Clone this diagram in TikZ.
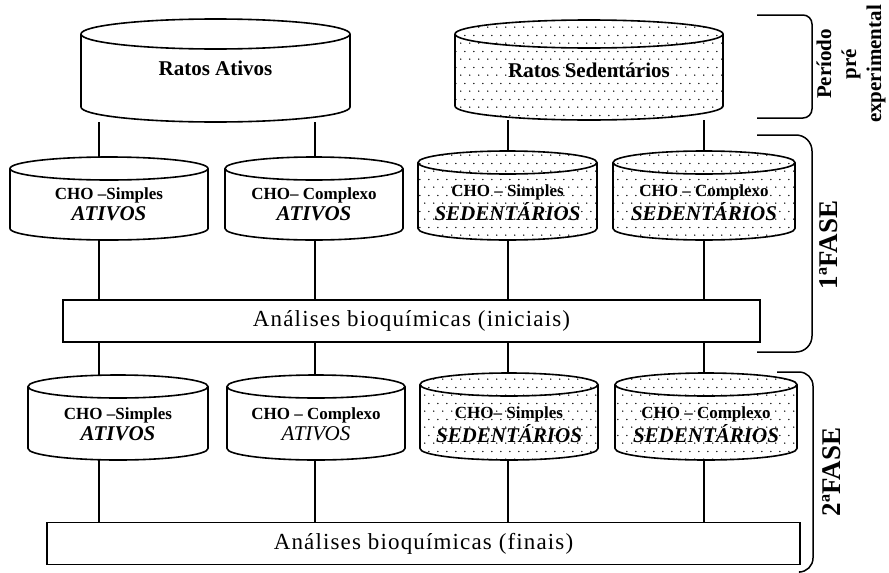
\documentclass[tikz,border=0pt]{standalone}
\usepackage{fontspec}
\setmainfont{Liberation Serif}
\usetikzlibrary{patterns}

% staggered sparse dots for the sedentary groups
\pgfdeclarepatternformonly{sparsedots}{\pgfqpoint{0pt}{0pt}}{\pgfqpoint{9pt}{16pt}}{\pgfqpoint{9pt}{16pt}}{%
  \pgfpathcircle{\pgfqpoint{2pt}{2pt}}{0.8pt}%
  \pgfpathcircle{\pgfqpoint{6.5pt}{10pt}}{0.8pt}%
  \pgfusepath{fill}}

% two-line label of a diet group
\newcommand{\grp}[2]{\textbf{#1}\\[1pt]{\fontsize{21}{23}\selectfont\bfseries\itshape #2}}

% can: style, name, cx, cy, width, height, ry, text drop, text
\newcommand{\can}[9]{%
  \pgfmathsetmacro{\canl}{#3-#5/2}%
  \pgfmathsetmacro{\canr}{#3+#5/2}%
  \pgfmathsetmacro{\cant}{#4-#6/2+#7}%
  \pgfmathsetmacro{\canb}{#4+#6/2-#7}%
  \pgfmathsetmacro{\canrx}{#5/2}%
  \draw[canline, #1] (\canl,\cant) -- (\canl,\canb)
    arc[start angle=180, end angle=360, x radius=\canrx pt, y radius=#7pt]
    -- (\canr,\cant)
    arc[start angle=0, end angle=180, x radius=\canrx pt, y radius=#7pt] -- cycle;
  \draw[canline] (\canl,\cant)
    arc[start angle=180, end angle=360, x radius=\canrx pt, y radius=#7pt];
  \node[inner sep=0pt, minimum width=#5pt, minimum height=#6pt] (#2) at (#3,#4) {};
  \node[align=center, inner sep=0pt] (#2txt) at (#3,#4+#8) {#9};
}

\begin{document}
\begin{tikzpicture}[x=1pt, y=-1pt,
  canline/.style={line width=1.6pt, line join=round},
  sed/.style={pattern=sparsedots},
  analise/.style={draw, line width=1.5pt, minimum height=42pt,
    font=\fontsize{23}{25}\selectfont\addfontfeatures{LetterSpace=5}},
  link/.style={line width=1.3pt},
  bracket/.style={line width=1.5pt, rounded corners=9pt},
  phase/.style={rotate=90, font=\fontsize{27}{30}\selectfont\bfseries}]

\useasboundingbox (0,0) rectangle (889,573);
\tikzset{every node/.append style={font=\fontsize{17}{20}\selectfont}}

% columns of the connectors
\coordinate (k1) at (99,0);
\coordinate (k2) at (315,0);
\coordinate (k3) at (508,0);
\coordinate (k4) at (704,0);

% starting groups
\can{}{ra}{215.5}{70.5}{269}{103}{15}{-2}{\fontsize{21}{23}\selectfont\bfseries Ratos Ativos}
\can{sed}{rs}{589}{70}{268}{100}{14}{0}{\fontsize{21}{23}\selectfont\bfseries Ratos Sedentários}

% 1a fase
\can{}{a11}{109}{198.5}{198}{83}{11.5}{6}{\grp{CHO –Simples}{ATIVOS}}
\can{}{a12}{314}{198.5}{178}{83}{11.5}{6}{\grp{CHO– Complexo}{ATIVOS}}
\can{sed}{s11}{507.5}{195.5}{179}{89}{11.5}{7}{\grp{CHO – Simples}{SEDENTÁRIOS}}
\can{sed}{s12}{704}{195.5}{182}{89}{11.5}{7}{\grp{CHO – Complexo}{SEDENTÁRIOS}}
\node[analise, minimum width=697pt] (ini) at (411.5,321) {Análises bioquímicas (iniciais)};

% 2a fase
\can{}{a21}{118}{417.5}{180}{85}{11.5}{7}{\grp{CHO –Simples}{ATIVOS}}
\can{}{a22}{316}{417.5}{178}{85}{11.5}{7}{\textbf{CHO – Complexo}\\[1pt]{\fontsize{21}{23}\selectfont\itshape ATIVOS}}
\can{sed}{s21}{509}{416.5}{178}{87}{11.5}{8}{\grp{CHO– Simples}{SEDENTÁRIOS}}
\can{sed}{s22}{706}{416.5}{182}{87}{11.5}{8}{\grp{CHO – Complexo}{SEDENTÁRIOS}}
\node[analise, minimum width=753pt] (fin) at (423.5,543.5) {Análises bioquímicas (finais)};

% connectors
\draw[link] (k1 |- ra.south) -- (k1 |- a11.north);
\draw[link] (k2 |- ra.south) -- (k2 |- a12.north);
\draw[link] (k3 |- rs.south) -- (k3 |- s11.north);
\draw[link] (k4 |- rs.south) -- (k4 |- s12.north);
\draw[link] (k1 |- a11.south) -- (k1 |- ini.north);
\draw[link] (k2 |- a12.south) -- (k2 |- ini.north);
\draw[link] (k3 |- s11.south) -- (k3 |- ini.north);
\draw[link] (k4 |- s12.south) -- (k4 |- ini.north);
\draw[link] (k1 |- ini.south) -- (k1 |- a21.north);
\draw[link] (k2 |- ini.south) -- (k2 |- a22.north);
\draw[link] (k3 |- ini.south) -- (k3 |- s21.north);
\draw[link] (k4 |- ini.south) -- (k4 |- s22.north);
\draw[link] (k1 |- a21.south) -- (k1 |- fin.north);
\draw[link] (k2 |- a22.south) -- (k2 |- fin.north);
\draw[link] (k3 |- s21.south) -- (k3 |- fin.north);
\draw[link] (k4 |- s22.south) -- (k4 |- fin.north);

% brackets on the right
\draw[bracket] (757,15) -- (812,15) -- (812,118) -- (757,118);
\node[rotate=90, align=center, font=\fontsize{21}{25}\selectfont\bfseries] (pre) at (851,64) {Período\\pré\\experimental};
\draw[bracket, rounded corners=16pt] (757,135) -- (812,135) -- (812,352) -- (757,352);
\node[phase] (f1) at (829,245) {1ªFASE};
\draw[bracket, rounded corners=14pt] (777,372) -- (813,372) -- (813,572) -- (800,572);
\node[phase] (f2) at (832,472) {2ªFASE};

\end{tikzpicture}
\end{document}
